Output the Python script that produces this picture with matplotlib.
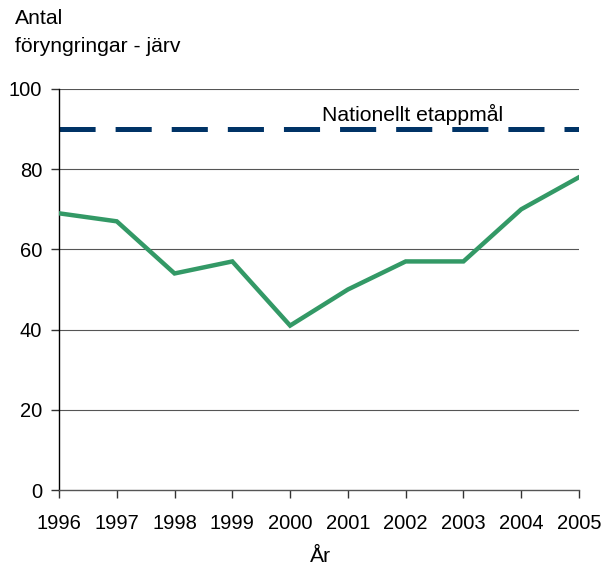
import matplotlib
matplotlib.use("Agg")
import matplotlib.pyplot as plt

years = [1996, 1997, 1998, 1999, 2000, 2001, 2002, 2003, 2004, 2005]
counts = [69, 67, 54, 57, 41, 50, 57, 57, 70, 78]
target = 90
target_label = "Nationellt etappmål"
y_ticks = [0, 20, 40, 60, 80, 100]

plt.rcParams['font.family'] = ['Liberation Sans', 'DejaVu Sans']
plt.rcParams['lines.scale_dashes'] = False

fig = plt.figure(figsize=(6.05, 5.66), dpi=100)
ax = fig.add_axes([59/605, 1-490/566, (579-59)/605, (490-89)/566])

for y in y_ticks[1:]:
    ax.axhline(y, color='#555555', lw=0.8, zorder=1)

ax.plot([years[0], years[-1]], [target, target], color='#003366', lw=3.6,
        dashes=(26, 14.4), solid_capstyle='butt', dash_capstyle='butt', zorder=2)
ax.text(2000.55, 90.9, target_label, fontsize=15.2, ha='left', va='bottom', zorder=3)

ax.plot(years, counts, color='#339966', lw=3.2, solid_joinstyle='miter', zorder=4)

ax.set_xlim(years[0], years[-1])
ax.set_ylim(0, 100)
ax.set_xticks(years)
ax.set_xticklabels([str(y) for y in years], fontsize=14.5)
ax.set_yticks(y_ticks)
ax.set_yticklabels([str(y) for y in y_ticks], fontsize=14.5)
ax.tick_params(axis='both', direction='out', length=6, width=1, colors='#333333', labelcolor='black')
ax.tick_params(axis='x', pad=11)
ax.tick_params(axis='y', pad=6)

for s in ['top', 'right']:
    ax.spines[s].set_visible(False)
ax.spines['left'].set_color('black')
ax.spines['bottom'].set_color('#555555')
ax.spines['left'].set_linewidth(1)
ax.spines['bottom'].set_linewidth(1)

fig.text(15/605, 1-18/566, "Antal", fontsize=15.2, ha='left', va='center')
fig.text(15/605, 1-47/566, "föryngringar - järv", fontsize=15.2, ha='left', va='center')
fig.text(320/605, 1-556/566, "År", fontsize=15.2, ha='center', va='center')

fig.savefig("out.png", dpi=100)
